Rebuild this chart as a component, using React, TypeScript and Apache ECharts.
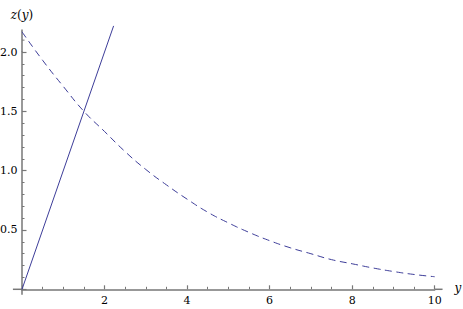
import React, { useEffect, useRef } from 'react';
import * as echarts from 'echarts';

// dashed curve samples (y, z)
const yValues = [0, 0.5, 1, 1.5, 2, 2.5, 3, 3.5, 4, 4.5, 5, 5.5, 6, 6.5, 7, 7.5, 8, 8.5, 9, 9.5, 10];
const dashedZ = [2.17, 1.93, 1.71, 1.5, 1.33, 1.16, 1.01, 0.88, 0.76, 0.65, 0.56, 0.48, 0.41, 0.35, 0.3, 0.25, 0.215, 0.18, 0.15, 0.125, 0.106];
// solid line z = y
const solidY = [0, 2.22];
const solidZ = [0, 2.22];

// axis extents as drawn in the reference (beyond the tick range)
const xAxisStart = -0.22;
const xAxisEnd = 10.19;
const yAxisStart = -0.045;
const yAxisEnd = 2.19;
const yExtraMinorTicks = [2.1];

const W = 463;
const H = 309;
const AXIS_COLOR = '#777777';
const LINE_COLOR = '#3d3d99';
const FONT = 'DejaVu Serif';

export default function App() {
  const ref = useRef<HTMLDivElement>(null);
  useEffect(() => {
    if (!ref.current) return;
    const chart = echarts.init(ref.current, undefined, { renderer: 'svg' });
    chart.setOption({
      animation: false,
      backgroundColor: '#ffffff',
      textStyle: { fontFamily: FONT },
      grid: { left: 22, right: 28.3, top: 52, bottom: 19.7, containLabel: false, outerBoundsMode: 'none' },
      xAxis: {
        type: 'value', min: 0, max: 10, interval: 2,
        splitLine: { show: false },
        axisLine: { show: true, lineStyle: { color: AXIS_COLOR, width: 1.5 } },
        axisTick: { show: true, inside: true, length: 4, lineStyle: { color: AXIS_COLOR, width: 1.2 } },
        minorTick: { show: true, splitNumber: 4, length: 2.5, lineStyle: { color: AXIS_COLOR, width: 1 } },
        axisLabel: {
          margin: 6, fontFamily: FONT, fontSize: 11, color: '#000',
          formatter: (v: number) => (v === 0 ? '' : String(v)),
        },
      },
      yAxis: {
        type: 'value', min: 0, max: 2, interval: 0.5,
        splitLine: { show: false },
        axisLine: { show: true, lineStyle: { color: AXIS_COLOR, width: 1.5 } },
        axisTick: { show: true, inside: true, length: 4.5, lineStyle: { color: AXIS_COLOR, width: 1.2 } },
        minorTick: { show: true, splitNumber: 5, length: 2.5, lineStyle: { color: AXIS_COLOR, width: 1 } },
        axisLabel: {
          margin: 4.5, fontFamily: FONT, fontSize: 11, color: '#000',
          formatter: (v: number) => (v === 0 ? '' : v.toFixed(1)),
        },
      },
      series: [
        {
          type: 'line',
          data: solidY.map((y, i) => [y, solidZ[i]]),
          showSymbol: false,
          clip: false,
          lineStyle: { color: LINE_COLOR, width: 1 },
        },
        {
          type: 'line',
          data: yValues.map((y, i) => [y, dashedZ[i]]),
          showSymbol: false,
          smooth: true,
          clip: false,
          lineStyle: { color: LINE_COLOR, width: 1, type: [7, 4.5] },
        },
      ],
    });
    const px = (x: number, y: number) => chart.convertToPixel({ gridIndex: 0 }, [x, y]) as number[];
    const seg = (a: number[], b: number[], w: number) => ({
      type: 'line',
      silent: true,
      shape: { x1: a[0], y1: a[1], x2: b[0], y2: b[1] },
      style: { stroke: AXIS_COLOR, lineWidth: w },
    });
    const graphics: any[] = [
      seg(px(xAxisStart, 0), px(0, 0), 1.5),
      seg(px(10, 0), px(xAxisEnd, 0), 1.5),
      seg(px(0, yAxisStart), px(0, 0), 1.5),
      seg(px(0, 2), px(0, yAxisEnd), 1.5),
    ];
    yExtraMinorTicks.forEach((t) => {
      const p = px(0, t);
      graphics.push(seg(p, [p[0] + 2.5, p[1]], 1));
    });
    const top = px(0, yAxisEnd);
    const end = px(xAxisEnd, 0);
    graphics.push({
      type: 'text',
      silent: true,
      x: top[0],
      y: top[1] - 14,
      style: {
        text: '{i|z}(' + '{i|y})',
        align: 'center',
        verticalAlign: 'middle',
        fontFamily: FONT,
        fontSize: 12,
        fill: '#000',
        rich: { i: { fontFamily: FONT, fontStyle: 'italic', fontSize: 12, fill: '#000' } },
      },
    });
    graphics.push({
      type: 'text',
      silent: true,
      x: end[0] + 12,
      y: end[1] - 1,
      style: { text: 'y', align: 'left', verticalAlign: 'middle', fontFamily: FONT, fontStyle: 'italic', fontSize: 12, fill: '#000' },
    });
    chart.setOption({ graphic: graphics });
    return () => chart.dispose();
  }, []);
  return <div ref={ref} style={{ position: 'fixed', left: 0, top: 0, width: W, height: H }} />;
}
